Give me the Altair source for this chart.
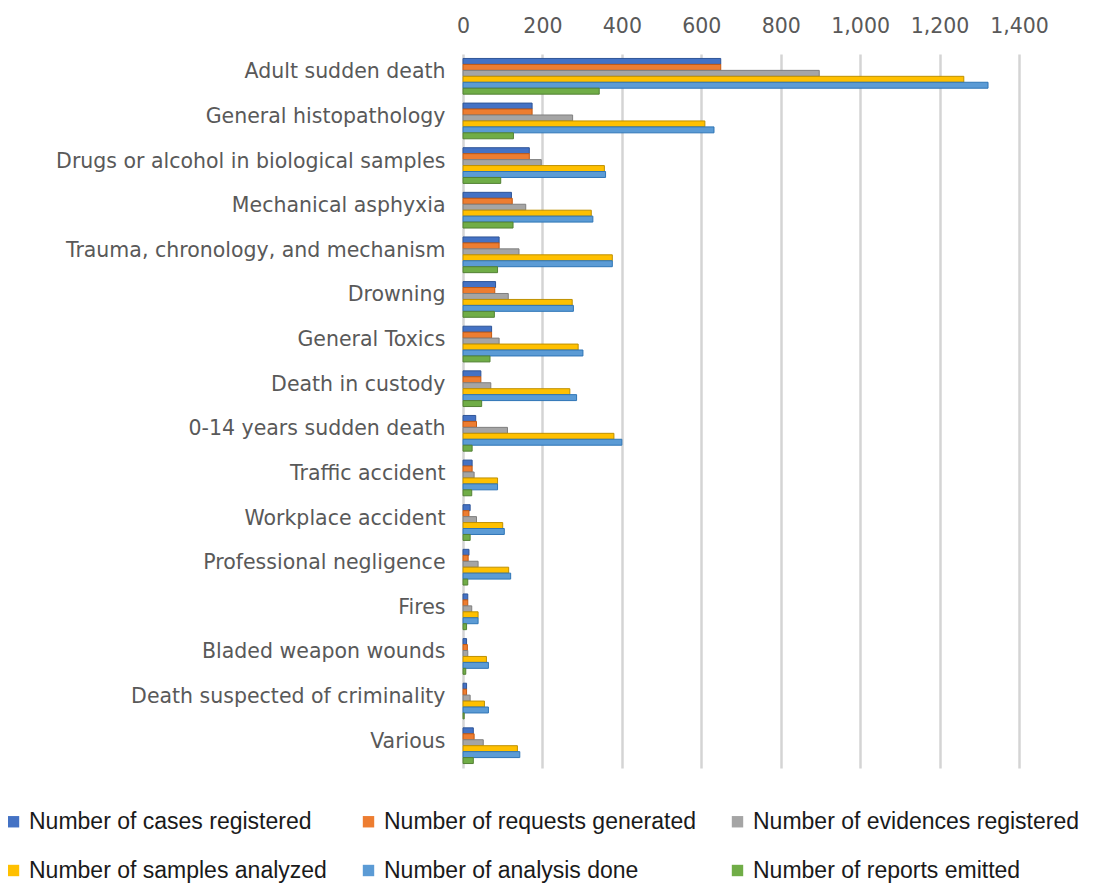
import altair as alt
import pandas as pd

categories = [
    "Adult sudden death", "General histopathology",
    "Drugs or alcohol in biological samples", "Mechanical asphyxia",
    "Trauma, chronology, and mechanism", "Drowning", "General Toxics",
    "Death in custody", "0-14 years sudden death", "Traffic accident",
    "Workplace accident", "Professional negligence", "Fires",
    "Bladed weapon wounds", "Death suspected of criminality", "Various",
]
series = [
    "Number of cases registered", "Number of requests generated",
    "Number of evidences registered", "Number of samples analyzed",
    "Number of analysis done", "Number of reports emitted",
]
cases = [649, 174, 167, 122, 91, 82, 72, 45, 32, 23, 18, 15, 12, 9, 9, 26]
requests = [649, 174, 167, 124, 91, 80, 72, 45, 34, 23, 15, 13, 12, 11, 9, 28]
evidences = [897, 276, 197, 158, 141, 114, 91, 70, 112, 28, 34, 38, 22, 12, 18, 51]
samples = [1261, 609, 356, 323, 376, 275, 290, 269, 380, 87, 100, 115, 38, 59, 54, 137]
analysis = [1322, 632, 359, 327, 376, 278, 302, 286, 400, 87, 104, 120, 38, 64, 64, 143]
reports = [343, 127, 95, 126, 87, 79, 68, 47, 23, 22, 18, 12, 9, 7, 3, 26]

colors = ["#4472C4", "#ED7D31", "#A5A5A5", "#FFC000", "#5B9BD5", "#70AD47"]
strokes = ["#2F5597", "#C55A11", "#7F7F7F", "#BF9000", "#2E75B6", "#548235"]

rows = []
for s, vals in zip(series, [cases, requests, evidences, samples, analysis, reports]):
    for c, v in zip(categories, vals):
        rows.append({"category": c, "series": s, "value": v})
df = pd.DataFrame(rows)

chart = (
    alt.Chart(df)
    .mark_bar(strokeWidth=1)
    .encode(
        x=alt.X(
            "value:Q",
            scale=alt.Scale(domain=[0, 1400], nice=False),
            axis=alt.Axis(
                orient="top", values=list(range(0, 1401, 200)), format=",d",
                title=None, domain=False, ticks=False, labelPadding=18,
                labelFontSize=20.5, labelColor="#595959", labelFont="DejaVu Sans",
                labelOverlap=False, labelFlush=False,
                grid=True, gridColor="#d4d4d4", gridWidth=2.5,
            ),
        ),
        y=alt.Y(
            "category:N", sort=categories,
            scale=alt.Scale(paddingInner=0.2, paddingOuter=0.1),
            axis=alt.Axis(
                title=None, domain=False, ticks=False, labelPadding=18,
                labelFontSize=20.5, labelColor="#595959", labelFont="DejaVu Sans",
                labelLimit=500, labelOffset=-4,
            ),
        ),
        yOffset=alt.YOffset("series:N", sort=series,
                            scale=alt.Scale(paddingInner=0, paddingOuter=0)),
        fill=alt.Fill(
            "series:N", sort=series,
            scale=alt.Scale(domain=series, range=colors),
            legend=alt.Legend(
                title=None, orient="none", legendX=-461, legendY=756,
                direction="horizontal",
                columns=3, columnPadding=30, rowPadding=25,
                symbolType="square", symbolSize=130, symbolStrokeWidth=0,
                labelFontSize=23, labelFont="Liberation Sans", labelColor="#1a1a1a",
                labelOffset=4, labelLimit=400, padding=0,
            ),
        ),
        stroke=alt.Stroke(
            "series:N", sort=series,
            scale=alt.Scale(domain=series, range=strokes), legend=None,
        ),
    )
    .properties(
        width=556, height=714,
        autosize=alt.AutoSizeParams(type="none"),
        padding={"left": 455, "top": 46, "right": 69, "bottom": 116},
    )
    .configure_view(stroke=None)
)

chart.save("out.html", embed_options={"renderer": "svg", "actions": False})
